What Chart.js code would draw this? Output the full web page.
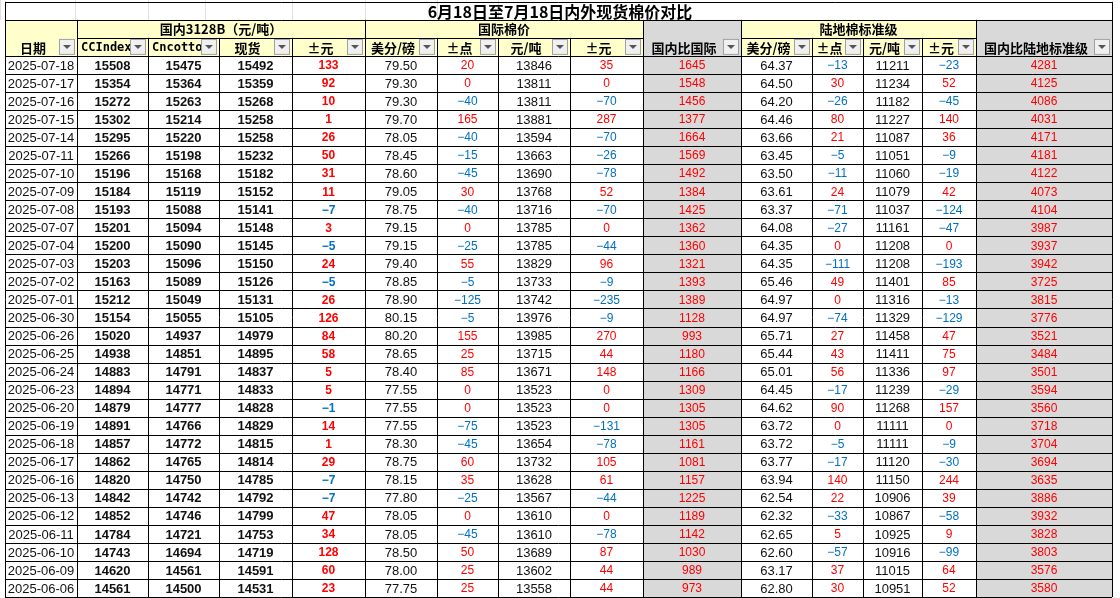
<!DOCTYPE html>
<html><head><meta charset="utf-8">
<script src="https://cdn.jsdelivr.net/npm/chart.js@4.4.1/dist/chart.umd.min.js"></script>
<style>html,body{margin:0;padding:0;background:#fff}#wrap{width:1120px;height:598px}</style>
</head><body><div id="wrap"><canvas id="c"></canvas></div>
<script>
const title = "6月18日至7月18日内外现货棉价对比";
const groups = ["国内3128B（元/吨）", "国际棉价", "陆地棉标准级"];
const heads = ["日期","CCIndex","Cncotton","现货","±元","美分/磅","±点","元/吨","±元","国内比国际","美分/磅","±点","元/吨","±元","国内比陆地标准级"];
const dates = ["2025-07-18","2025-07-17","2025-07-16","2025-07-15","2025-07-14","2025-07-11","2025-07-10","2025-07-09","2025-07-08","2025-07-07","2025-07-04","2025-07-03","2025-07-02","2025-07-01","2025-06-30","2025-06-26","2025-06-25","2025-06-24","2025-06-23","2025-06-20","2025-06-19","2025-06-18","2025-06-17","2025-06-16","2025-06-13","2025-06-12","2025-06-11","2025-06-10","2025-06-09","2025-06-06"];
const ccIndex = [15508,15354,15272,15302,15295,15266,15196,15184,15193,15201,15200,15203,15163,15212,15154,15020,14938,14883,14894,14879,14891,14857,14862,14820,14842,14852,14784,14743,14620,14561];
const cncotton = [15475,15364,15263,15214,15220,15198,15168,15119,15088,15094,15090,15096,15089,15049,15055,14937,14851,14791,14771,14777,14766,14772,14765,14750,14742,14746,14721,14694,14561,14500];
const spot = [15492,15359,15268,15258,15258,15232,15182,15152,15141,15148,15145,15150,15126,15131,15105,14979,14895,14837,14833,14828,14829,14815,14814,14785,14792,14799,14753,14719,14591,14531];
const spotChg = [133,92,10,1,26,50,31,11,-7,3,-5,24,-5,26,126,84,58,5,5,-1,14,1,29,-7,-7,47,34,128,60,23];
const intlCents = ["79.50","79.30","79.30","79.70","78.05","78.45","78.60","79.05","78.75","79.15","79.15","79.40","78.85","78.90","80.15","80.20","78.65","78.40","77.55","77.55","77.55","78.30","78.75","78.15","77.80","78.05","78.05","78.50","78.00","77.75"];
const intlPts = [20,0,-40,165,-40,-15,-45,30,-40,0,-25,55,-5,-125,-5,155,25,85,0,0,-75,-45,60,35,-25,0,-45,50,25,25];
const intlYuan = [13846,13811,13811,13881,13594,13663,13690,13768,13716,13785,13785,13829,13733,13742,13976,13985,13715,13671,13523,13523,13523,13654,13732,13628,13567,13610,13610,13689,13602,13558];
const intlChg = [35,0,-70,287,-70,-26,-78,52,-70,0,-44,96,-9,-235,-9,270,44,148,0,0,-131,-78,105,61,-44,0,-78,87,44,44];
const diffIntl = [1645,1548,1456,1377,1664,1569,1492,1384,1425,1362,1360,1321,1393,1389,1128,993,1180,1166,1309,1305,1305,1161,1081,1157,1225,1189,1142,1030,989,973];
const bzCents = ["64.37","64.50","64.20","64.46","63.66","63.45","63.50","63.61","63.37","64.08","64.35","64.35","65.46","64.97","64.97","65.71","65.44","65.01","64.45","64.62","63.72","63.72","63.77","63.94","62.54","62.32","62.65","62.60","63.17","62.80"];
const bzPts = [-13,30,-26,80,21,-5,-11,24,-71,-27,0,-111,49,0,-74,27,43,56,-17,90,0,-5,-17,140,22,-33,5,-57,37,30];
const bzYuan = [11211,11234,11182,11227,11087,11051,11060,11079,11037,11161,11208,11208,11401,11316,11329,11458,11411,11336,11239,11268,11111,11111,11120,11150,10906,10867,10925,10916,11015,10951];
const bzChg = [-23,52,-45,140,36,-9,-19,42,-124,-47,0,-193,85,-13,-129,47,75,97,-29,157,0,-9,-30,244,39,-58,9,-99,64,52];
const diffBz = [4281,4125,4086,4031,4171,4181,4122,4073,4104,3987,3937,3942,3725,3815,3776,3521,3484,3501,3594,3560,3718,3704,3694,3635,3886,3932,3828,3803,3576,3580];

const columns = [dates,ccIndex,cncotton,spot,spotChg,intlCents,intlPts,intlYuan,intlChg,diffIntl,bzCents,bzPts,bzYuan,bzChg,diffBz];

// layout (pixels on x scale, row units on y scale)
const edges = [5,77,148,219,292,365,437,498,570,643,741,812,863,922,976,1112];
const groupSpan = [[1,4],[5,8],[10,13]];
const grayCols = [9,14];
const boldCols = [1,2,3,4];
const signCols = [4,6,8,11,13];
const RED = "#ff0000", BLUE = "#0070c0";
const CJK = '"Noto Sans CJK SC", sans-serif';

const tablePlugin = {
  id: "table",
  afterDraw(chart) {
    const ctx = chart.ctx, xs = chart.scales.x, ys = chart.scales.y;
    const X = v => xs.getPixelForValue(v), Y = v => ys.getPixelForValue(v);
    const n = dates.length;
    ctx.save();
    // faint spreadsheet grid behind title
    ctx.strokeStyle = "#e0e0e0"; ctx.lineWidth = 1;
    [0,75,148,205,292,365,437,498].forEach(e => { ctx.beginPath(); ctx.moveTo(X(e)+0.5, Y(-3.2)); ctx.lineTo(X(e)+0.5, Y(-2)); ctx.stroke(); });
    // header fills
    for (let c = 0; c < 15; c++) {
      ctx.fillStyle = grayCols.includes(c) ? "#d9d9d9" : "#ffffcc";
      ctx.fillRect(X(edges[c]), Y(-2), X(edges[c+1]) - X(edges[c]), Y(0) - Y(-2));
      if (grayCols.includes(c)) ctx.fillRect(X(edges[c]), Y(0), X(edges[c+1]) - X(edges[c]), Y(n) - Y(0));
    }
    // title
    ctx.fillStyle = "#000"; ctx.textAlign = "center"; ctx.textBaseline = "middle";
    ctx.font = "bold 16px " + CJK;
    ctx.fillText(title, X(560), Y(-2.5) + 1);
    // group headers
    ctx.font = "bold 13px " + CJK;
    groupSpan.forEach((g, i) => ctx.fillText(groups[i], (X(edges[g[0]]) + X(edges[g[1]+1])) / 2, Y(-1.5)));
    // column headers + dropdown buttons
    for (let c = 0; c < 15; c++) {
      const l = X(edges[c]), r = X(edges[c+1]), yc = Y(-0.5);
      ctx.save();
      ctx.beginPath(); ctx.rect(l, Y(-1), r - l - 18, Y(0) - Y(-1)); ctx.clip();
      ctx.font = (c === 1 || c === 2 ? 'bold 12px "DejaVu Sans Mono"' : "bold 13px " + CJK);
      ctx.fillStyle = "#000"; ctx.textAlign = "center";
      const cx = (c === 1 || c === 2) ? l + 4 + ctx.measureText(heads[c]).width / 2 : (l + r - 16) / 2;
      ctx.fillText(heads[c], cx, yc + 1);
      ctx.restore();
      const bx = r - 18, by = yc - 8;
      ctx.fillStyle = "#f0f0f0"; ctx.fillRect(bx, by, 16, 16);
      ctx.strokeStyle = "#a0a0a0"; ctx.strokeRect(bx + 0.5, by + 0.5, 15, 15);
      ctx.fillStyle = "#555"; ctx.beginPath();
      ctx.moveTo(bx + 4, by + 6); ctx.lineTo(bx + 12, by + 6); ctx.lineTo(bx + 8, by + 10); ctx.closePath(); ctx.fill();
    }
    // cells
    for (let i = 0; i < n; i++) {
      const yc = (Y(i) + Y(i + 1)) / 2 + 1;
      for (let c = 0; c < 15; c++) {
        const v = columns[c][i];
        const cx = (X(edges[c]) + X(edges[c+1])) / 2;
        let color = "#111";
        if (signCols.includes(c)) color = Number(v) < 0 ? BLUE : RED;
        if (grayCols.includes(c)) color = RED;
        ctx.fillStyle = color;
        if (boldCols.includes(c)) ctx.font = (c === 4 ? "bold 12px " : "bold 13px ") + '"Liberation Sans", Arial';
        else if (grayCols.includes(c) || signCols.includes(c)) ctx.font = '12px "Liberation Sans"';
        else ctx.font = '13px "Liberation Sans", Arial';
        const s = (typeof v === "number" && v < 0) ? "\u2212" + Math.abs(v) : String(v);
        ctx.fillText(s, cx, yc);
      }
    }
    // grid lines
    ctx.strokeStyle = "#000"; ctx.lineWidth = 1;
    const hl = (y, x0, x1) => { ctx.beginPath(); ctx.moveTo(x0, Math.round(y) + 0.5); ctx.lineTo(x1, Math.round(y) + 0.5); ctx.stroke(); };
    const vl = (x, y0, y1) => { ctx.beginPath(); ctx.moveTo(Math.round(x) + 0.5, y0); ctx.lineTo(Math.round(x) + 0.5, y1); ctx.stroke(); };
    hl(Y(-3), X(edges[0]), X(edges[15]));
    hl(Y(-2), X(edges[0]), X(edges[15]));
    groupSpan.forEach(g => hl(Y(-1), X(edges[g[0]]), X(edges[g[1]+1])));
    for (let i = 0; i <= n; i++) hl(Y(i), X(edges[0]), X(edges[15]));
    vl(X(edges[0]), Y(-3), Y(n)); vl(X(edges[15]), Y(-3), Y(n));
    for (let c = 1; c < 15; c++) {
      const inner = groupSpan.some(g => c > g[0] && c <= g[1]);
      vl(X(edges[c]), inner ? Y(-1) : Y(-2), Y(n));
    }
    ctx.restore();
  }
};

new Chart(document.getElementById("c"), {
  type: "scatter",
  data: { datasets: [{ data: [], pointRadius: 0 }] },
  options: {
    responsive: true, maintainAspectRatio: false, animation: false,
    layout: { padding: 0 },
    plugins: { legend: { display: false }, tooltip: { enabled: false } },
    scales: {
      x: { type: "linear", min: 0, max: 1120, display: false },
      y: { type: "linear", min: -3.1, max: 30.05, reverse: true, display: false }
    }
  },
  plugins: [tablePlugin]
});
</script></body></html>
